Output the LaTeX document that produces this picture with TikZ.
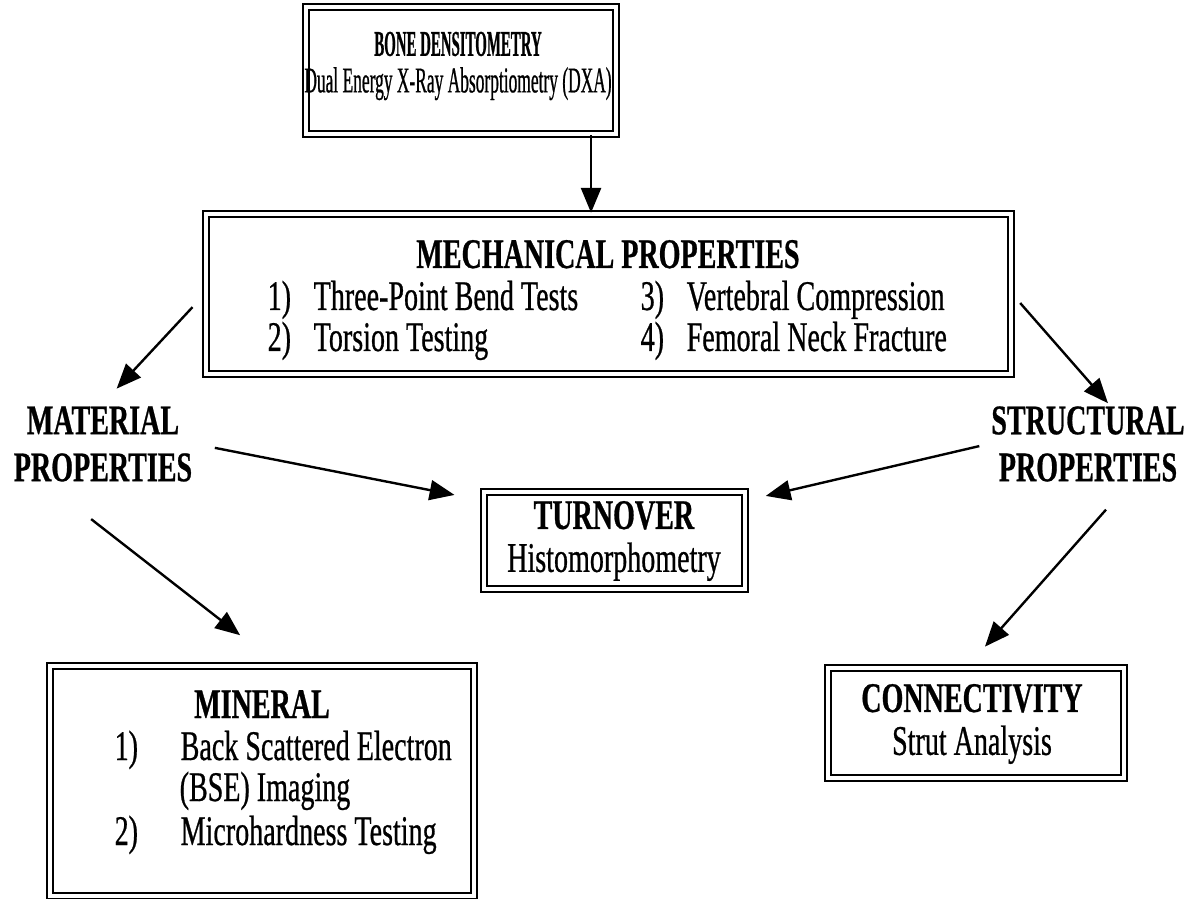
\documentclass[tikz,border=0pt]{standalone}
\usepackage{fontspec}
\setmainfont{Liberation Serif}[FakeStretch=0.665, FakeBold=0.6]
\newfontfamily\topfont{Liberation Serif}[FakeStretch=0.48, FakeBold=0.6]
\newfontfamily\toptitlefont{Liberation Serif}[FakeStretch=0.41, FakeBold=0.6]
\usetikzlibrary{arrows.meta,fit}

\begin{document}
\begin{tikzpicture}[x=0.025cm, y=-0.025cm,
    dbox/.style={draw, double, line width=1.8pt, double distance=2.2pt, inner sep=0pt},
    big/.style={font=\fontsize{30}{36}\selectfont, inner sep=1pt},
    small/.style={font=\topfont\fontsize{25.8}{26}\selectfont, align=center, inner sep=1pt},
    boxtext/.style={font=\fontsize{30}{30.5}\selectfont, align=center, inner sep=1pt},
    side/.style={font=\fontsize{30}{33.4}\selectfont\bfseries, align=center, inner sep=2pt},
    arr/.style={-{Triangle[length=0.62cm,width=0.5cm]}, line width=1.7pt}]

  \useasboundingbox (0,0) rectangle (1203,899);

  % boxes
  \node[dbox, fit={(306,7) (616,134)}] (bone) {};
  \node[dbox, fit={(206,214) (1011,374)}] (mech) {};
  \node[dbox, fit={(484,492) (745,589)}] (turn) {};
  \node[dbox, fit={(50,666) (474,896)}] (mineral) {};
  \node[dbox, fit={(828,668) (1124,778)}] (conn) {};

  % bone densitometry
  \node[small] (boneT) at (458,66) {{\toptitlefont\bfseries BONE DENSITOMETRY}\\Dual Energy X-Ray Absorptiometry (DXA)};

  % mechanical properties
  \node[big, anchor=base] (mechT) at (608,268) {\bfseries MECHANICAL PROPERTIES};
  \node[big, anchor=base west] (mech1) at (266,310) {\makebox[1.15cm][l]{1)}Three-Point Bend Tests};
  \node[big, anchor=base west] (mech2) at (266,351) {\makebox[1.15cm][l]{2)}Torsion Testing};
  \node[big, anchor=base west] (mech3) at (639,310) {\makebox[1.15cm][l]{3)}Vertebral Compression};
  \node[big, anchor=base west] (mech4) at (639,351) {\makebox[1.15cm][l]{4)}Femoral Neck Fracture};

  % side labels
  \node[side] (mat) at (103,444) {MATERIAL\\PROPERTIES};
  \node[side] (struct) at (1088,444) {STRUCTURAL\\PROPERTIES};

  % turnover
  \node[boxtext] (turnT) at (614,541) {\textbf{TURNOVER}\\Histomorphometry};

  % mineral
  \node[big, anchor=base] (minT) at (262,718) {\bfseries MINERAL};
  \node[big, anchor=base west] (min1) at (113,760) {\makebox[1.65cm][l]{1)}Back Scattered Electron};
  \node[big, anchor=base west] (min1b) at (178,801) {(BSE) Imaging};
  \node[big, anchor=base west] (min2) at (113,845) {\makebox[1.65cm][l]{2)}Microhardness Testing};

  % connectivity
  \node[boxtext] (connT) at (972,724) {\textbf{CONNECTIVITY}\\Strut Analysis};

  % arrows
  \draw[arr] ([xshift=3.25cm]bone.south) -- ([xshift=3.25cm]bone.south |- mech.north);
  \draw[arr, shorten <=0.45cm, shorten >=0.5cm] (mech.west) -- (mat.north);
  \draw[arr, shorten <=0.3cm] (mech.east) -- ([xshift=0.5cm]struct.north);
  \draw[arr, shorten <=0.5cm, shorten >=0.72cm] (mat.east) -- ([yshift=1cm]turn.west);
  \draw[arr, shorten <=0.23cm, shorten >=0.5cm] (struct.west) -- ([yshift=1cm]turn.east);
  \draw[arr, shorten <=1.4cm, shorten >=1.2cm] ([xshift=-1.4cm]mat.south) -- ([xshift=0.4cm]mineral.north);
  \draw[arr, shorten <=0.83cm, shorten >=0.67cm] ([xshift=1cm]struct.south) -- ([xshift=-0.22cm]conn.north);
\end{tikzpicture}
\end{document}
